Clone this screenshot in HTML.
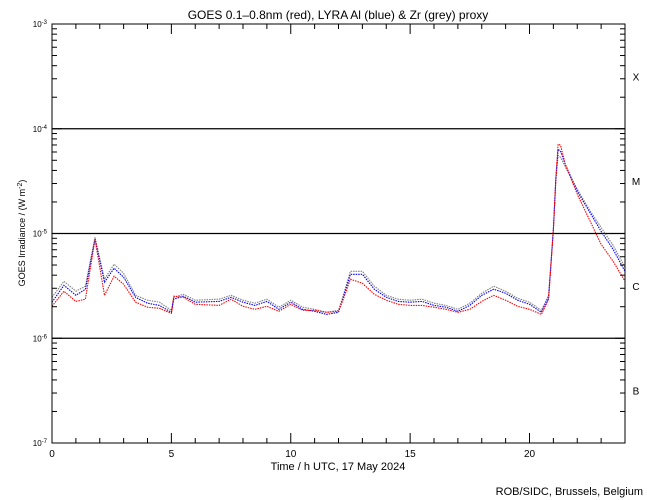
<!DOCTYPE html>
<html><head><meta charset="utf-8"><style>
body{margin:0;background:#fff;}
svg{display:block;font-family:"Liberation Sans",sans-serif;}
</style></head><body>
<svg id="chart" width="650" height="500" viewBox="0 0 650 500">
<rect width="650" height="500" fill="#fff"/>
<text x="338" y="19" font-size="12" text-anchor="middle">GOES 0.1–0.8nm (red), LYRA Al (blue) &amp; Zr (grey) proxy</text>
<g id="grid"></g>
<g id="series"></g>
<rect x="52" y="24" width="573" height="419" fill="none" stroke="#000" stroke-width="1"/>
<g id="axes"></g>
<text x="338" y="470" font-size="11" text-anchor="middle">Time / h UTC, 17 May 2024</text>
<text transform="translate(25,233) rotate(-90)" font-size="9" text-anchor="middle">GOES Irradiance / (W m<tspan baseline-shift="super" font-size="7">-2</tspan>)</text>
<text x="643" y="495" font-size="11" text-anchor="end">ROB/SIDC, Brussels, Belgium</text>
</svg>
<script>
const hours = [0,0.5,1,1.4,1.8,2.2,2.6,3,3.5,4,4.5,5,5.1,5.5,6,7,7.5,8,8.5,9,9.5,10,10.5,11,11.5,12,12.2,12.5,13,13.5,14,14.5,15,15.5,16,16.5,17,17.5,18,18.5,19,19.5,20,20.5,20.8,21,21.1,21.2,21.3,21.5,22,22.5,23,23.5,24];
// flux in units of 1e-6 W m^-2
const goesRed = [2.02,2.81,2.25,2.36,8.83,2.57,3.91,3.28,2.21,1.98,1.93,1.73,2.52,2.46,2.11,2.06,2.36,2.02,1.89,2.02,1.81,2.11,1.85,1.85,1.77,1.81,2.36,3.66,3.35,2.63,2.31,2.11,2.06,2.06,1.98,1.89,1.77,1.89,2.25,2.57,2.31,2.02,1.89,1.69,2.36,11.0,32.9,71.2,69.6,45.7,23.7,13.7,7.90,5.44,3.50];
const lyraAlBlue = [2.21,3.20,2.57,2.94,8.83,3.43,4.66,3.83,2.46,2.16,2.06,1.77,2.36,2.52,2.21,2.25,2.46,2.21,2.06,2.25,1.89,2.21,1.89,1.81,1.69,1.77,2.46,4.08,4.08,2.94,2.46,2.25,2.21,2.25,2.06,1.98,1.81,2.06,2.57,2.94,2.69,2.31,2.11,1.77,2.46,11.0,32.9,63.7,61.0,45.7,25.3,16.3,10.5,7.07,4.36];
const lyraZrGrey = [2.46,3.50,2.81,3.14,9.21,3.66,5.09,4.17,2.57,2.31,2.21,1.85,2.46,2.63,2.31,2.36,2.57,2.31,2.16,2.36,1.98,2.31,1.98,1.89,1.77,1.85,2.57,4.36,4.36,3.14,2.57,2.36,2.31,2.36,2.16,2.06,1.89,2.16,2.69,3.14,2.81,2.41,2.21,1.85,2.57,11.0,31.5,55.7,53.4,43.1,26.5,17.0,11.4,7.72,4.76];
const xTicks = [0,5,10,15,20];
const yExps = [-7,-6,-5,-4,-3];
const classes = ["B","C","M","X"];

const NS="http://www.w3.org/2000/svg";
const X0=52,X1=625,Y0=443,Y1=24;
const xs=h=>X0+(h/24)*(X1-X0);
const ys=logf=>Y0-(logf+7)/4*(Y0-Y1);
const yFlux=v=>ys(Math.log10(v*1e-6));
function mk(tag,attrs,parent){const e=document.createElementNS(NS,tag);for(const k in attrs)e.setAttribute(k,attrs[k]);parent.appendChild(e);return e;}
const grid=document.getElementById('grid'),axes=document.getElementById('axes'),series=document.getElementById('series');

[-6,-5,-4].forEach(ex=>{
  const l=mk('line',{x1:X0,x2:X1,y1:ys(ex),y2:ys(ex),stroke:'#000','stroke-width':1.2},grid);
  
  
});
yExps.forEach(ex=>{
  const y=ys(ex);
  const t=mk('text',{x:47,y:y+3,'font-size':8,'text-anchor':'end'},axes);
  
  
  t.innerHTML='10<tspan baseline-shift="super" font-size="6">'+ex+'</tspan>';
  mk('line',{x1:X0,x2:X0+10,y1:y,y2:y,stroke:'#000'},axes);
  mk('line',{x1:X1,x2:X1-10,y1:y,y2:y,stroke:'#000'},axes);
  if(ex<-3){for(let m=2;m<10;m++){const yy=ys(ex+Math.log10(m));
    mk('line',{x1:X0,x2:X0+5,y1:yy,y2:yy,stroke:'#000'},axes);
    mk('line',{x1:X1,x2:X1-5,y1:yy,y2:yy,stroke:'#000'},axes);}}
});
classes.forEach((c,i)=>{
  const t=mk('text',{x:636,y:ys(-6.5+i)+4,'font-size':10,'text-anchor':'middle'},axes);
  
  
  t.textContent=c;
});
for(let h=0;h<=24;h++){
  const major=h%5===0;const x=xs(h);
  mk('line',{x1:x,x2:x,y1:Y0,y2:Y0-(major?10:5),stroke:'#000'},axes);
  mk('line',{x1:x,x2:x,y1:Y1,y2:Y1+(major?10:5),stroke:'#000'},axes);
}
xTicks.forEach(h=>{
  const t=mk('text',{x:xs(h),y:457,'font-size':10,'text-anchor':'middle'},axes);
  
  
  t.textContent=h;
});
function draw(vals,color,name){
  const d=vals.map((v,i)=>(i?'L':'M')+xs(hours[i]).toFixed(1)+','+yFlux(v).toFixed(1)).join('');
  const p=mk('path',{d:d,fill:'none',stroke:color,'stroke-width':1.1,'stroke-dasharray':'1.5 1'},series);
  
  
}
draw(lyraZrGrey,'#808080','zr-grey-series');
draw(lyraAlBlue,'#0000ff','al-blue-series');
draw(goesRed,'#ff0000','goes-red-series');
</script>
</body></html>
